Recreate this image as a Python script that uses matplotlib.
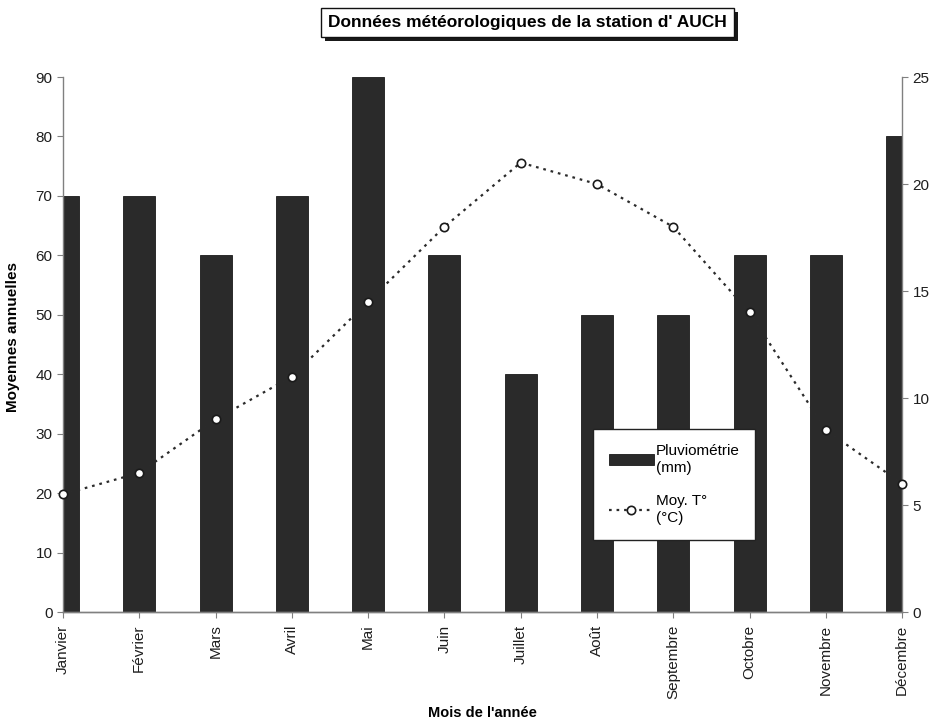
import matplotlib.pyplot as plt
import matplotlib.patheffects as pe
import numpy as np

plt.rcParams['font.family'] = ['Liberation Sans', 'DejaVu Sans']

# Données mensuelles
mois = ['Janvier', 'Février', 'Mars', 'Avril', 'Mai', 'Juin', 'Juillet',
        'Août', 'Septembre', 'Octobre', 'Novembre', 'Décembre']
pluie = [70, 70, 60, 70, 90, 60, 40, 50, 50, 60, 60, 80]
temp = [5.5, 6.5, 9.0, 11.0, 14.5, 18.0, 21.0, 20.0, 18.0, 14.0, 8.5, 6.0]

x = np.arange(len(mois))

fig = plt.figure(figsize=(9.3, 7.2), dpi=100)
ax = fig.add_axes([0.0677, 0.15, 0.9023, 0.743])
ax2 = ax.twinx()

bars = ax.bar(x, pluie, width=0.42, color='#2a2a2a', edgecolor='#1a1a1a',
              linewidth=0.6, label='Pluviométrie\n(mm)')
line, = ax2.plot(x, temp, linestyle=(0, (1.2, 2.2)), color='#2b2b2b', lw=1.6,
                 marker='o', markersize=6, markerfacecolor='white',
                 markeredgecolor='#1a1a1a', markeredgewidth=1.2,
                 label='Moy. T°\n(°C)', clip_on=False, zorder=5)

ax.set_xlim(0, 11)
ax.set_ylim(0, 90)
ax2.set_ylim(0, 25)
ax.set_yticks(np.arange(0, 91, 10))
ax2.set_yticks(np.arange(0, 26, 5))
ax.set_xticks(x)
ax.set_xticklabels(mois, rotation=90, fontsize=11)

for a in (ax, ax2):
    a.spines['top'].set_visible(False)
    for s in a.spines.values():
        s.set_color('#808080')
        s.set_linewidth(1.0)
    a.tick_params(axis='both', direction='out', length=4, width=0.8,
                  color='#808080', labelsize=11, labelcolor='#1e1e1e')
ax2.spines['left'].set_visible(False)
ax.spines['right'].set_visible(False)
ax.tick_params(axis='x', pad=5)

ax.set_ylabel('Moyennes annuelles', fontsize=11, fontweight='bold')
ax.yaxis.set_label_coords(-0.051, 0.514)
ax.set_xlabel("Mois de l'année", fontsize=10.5, fontweight='bold')
ax.xaxis.set_label_coords(0.5, -0.176)

# Titre encadré avec ombre portée
t = fig.text(0.567, 0.969, "Données météorologiques de la station d' AUCH",
             ha='center', va='center', fontsize=12.5, fontweight='bold',
             bbox=dict(boxstyle='square,pad=0.4', facecolor='white',
                       edgecolor='#111111', linewidth=1.0))
t.get_bbox_patch().set_path_effects([
    pe.withSimplePatchShadow(offset=(3, -3), shadow_rgbFace='black', alpha=0.9)])

leg = ax2.legend([bars, line], ['Pluviométrie\n(mm)', 'Moy. T°\n(°C)'],
                 loc='upper left', bbox_to_anchor=(0.632, 0.342),
                 fontsize=11, frameon=True, fancybox=False, shadow=False,
                 handlelength=3.0, handletextpad=0.1, labelspacing=1.3,
                 borderpad=1.0, borderaxespad=0)
leg.get_frame().set_edgecolor('#222222')
leg.get_frame().set_linewidth(1.0)
leg.get_frame().set_alpha(1)

fig.savefig('out.png', dpi=100)
